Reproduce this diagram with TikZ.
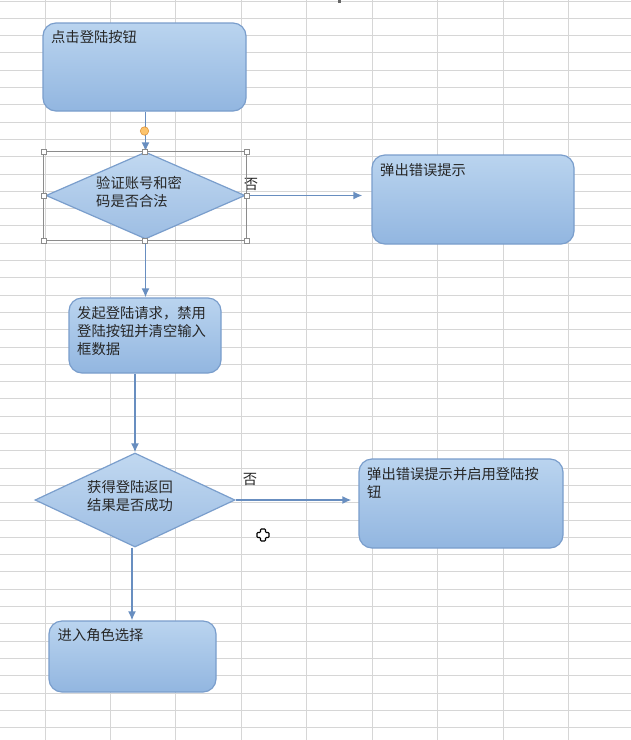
\documentclass[tikz,border=0pt]{standalone}
\usepackage{fontspec}
\setmainfont{Noto Sans CJK SC}
\usetikzlibrary{arrows.meta,calc,shapes.geometric}
\definecolor{gridc}{RGB}{214,214,214}
\definecolor{boxtop}{RGB}{186,212,239}
\definecolor{boxbot}{RGB}{146,182,224}
\definecolor{boxline}{RGB}{122,158,204}
\definecolor{conn}{RGB}{104,142,192}
\definecolor{selc}{RGB}{140,140,140}
\definecolor{orangef}{RGB}{252,196,110}
\definecolor{oranged}{RGB}{226,150,60}
\tikzset{
  flowbox/.style={rectangle, rounded corners=13pt, draw=boxline, line width=1.2pt,
    top color=boxtop, bottom color=boxbot, inner sep=0pt},
  decide/.style={diamond, aspect=2.2, draw=boxline, line width=1.2pt,
    top color=boxtop!90!white, bottom color=boxbot!90!white, inner sep=0pt},
  txt/.style={inner sep=0pt, align=left, font=\fontsize{14.3}{18}\selectfont, text=black!85},
  flowarrow/.style={draw=conn, line width=1.6pt, -{Latex[length=9pt,width=8pt]}},
  handle/.style={rectangle, draw=selc, fill=white, line width=0.6pt, minimum size=5pt, inner sep=0pt},
}
\begin{document}
\begin{tikzpicture}[x=1pt,y=-1pt]
\useasboundingbox (0,0) rectangle (631,740);
\fill[white] (0,0) rectangle (631,740);
% spreadsheet grid
\foreach \k in {0,...,41} {\draw[gridc, line width=1pt] (0,{18.3+17.3*\k}) -- (631,{18.3+17.3*\k});}
\draw[gridc, line width=1pt] (0,1.2) -- (631,1.2);
\foreach \k in {0,...,8} {\draw[gridc, line width=1pt] ({45+65.45*\k},0) -- ({45+65.45*\k},740);}
\fill[black!60] (338,0) rectangle (341,3);

% shapes
\node[flowbox, minimum width=203pt, minimum height=88pt] (B1) at (144.5,67) {};
\node[decide, minimum width=199pt, minimum height=87pt] (D1) at (145.5,195.5) {};
\node[flowbox, minimum width=202pt, minimum height=89pt] (B2) at (473,199.5) {};
\node[flowbox, minimum width=152pt, minimum height=75pt] (B3) at (145,335.5) {};
\node[decide, minimum width=200pt, minimum height=94pt] (D2) at (135,500) {};
\node[flowbox, minimum width=204pt, minimum height=89pt] (B4) at (461,503.5) {};
\node[flowbox, minimum width=167pt, minimum height=71pt] (B5) at (132.5,656.5) {};

% texts
\node[txt, anchor=west] (t1) at (51,37.5) {点击登陆按钮};
\node[txt, anchor=west] (t2) at (96,192.3) {验证账号和密\\码是否合法};
\node[txt, anchor=west] (t3) at (380,170) {弹出错误提示};
\node[txt, anchor=west] (t4) at (77,330.6) {发起登陆请求，禁用\\登陆按钮并清空输入\\框数据};
\node[txt, anchor=west] (t5) at (87,496) {获得登陆返回\\结果是否成功};
\node[txt, anchor=west] (t6) at (367,483) {弹出错误提示并启用登陆按\\钮};
\node[txt, anchor=west] (t7) at (57.5,635) {进入角色选择};
\node[txt] (n1) at (251,184.5) {否};
\node[txt] (n2) at (250,479) {否};

% connectors
\draw[flowarrow] (B1.south -| D1.north) -- (D1.north);
\draw[flowarrow, shorten >=9pt] (D1.east) -- (D1.east -| B2.west);
\draw[flowarrow] (D1.south) -- (D1.south |- B3.north);
\draw[flowarrow] (B3.south -| D2.north) -- (D2.north);
\draw[flowarrow, shorten >=7pt] (D2.east) -- (D2.east -| B4.west);
\draw[flowarrow] ($(D2.south)+(-3,0)$) -- ($(D2.south |- B5.north)+(-3,0)$);

% connector handle
\coordinate (oh) at (144.5,131);
\draw[oranged, fill=orangef, line width=0.6pt] (oh) circle (4.2pt);

% selection frame around first decision
\draw[selc, line width=0.7pt] (43.3,151.7) rectangle (246.7,240.7);
\foreach \px/\py in {43.3/151.7, 145/151.7, 246.7/151.7, 43.3/196.2, 246.7/196.2, 43.3/240.7, 145/240.7, 246.7/240.7}
  {\node[handle] at (\px,\py) {};}

% mouse cursor
\draw[black, fill=white, line width=1.1pt, rounded corners=0.8pt]
  (260.5,529) -- (265.5,529) -- (265.5,532.5) -- (269,532.5) -- (269,537.5) -- (265.5,537.5)
  -- (265.5,541) -- (260.5,541) -- (260.5,537.5) -- (257,537.5) -- (257,532.5) -- (260.5,532.5) -- cycle;
\end{tikzpicture}
\end{document}
